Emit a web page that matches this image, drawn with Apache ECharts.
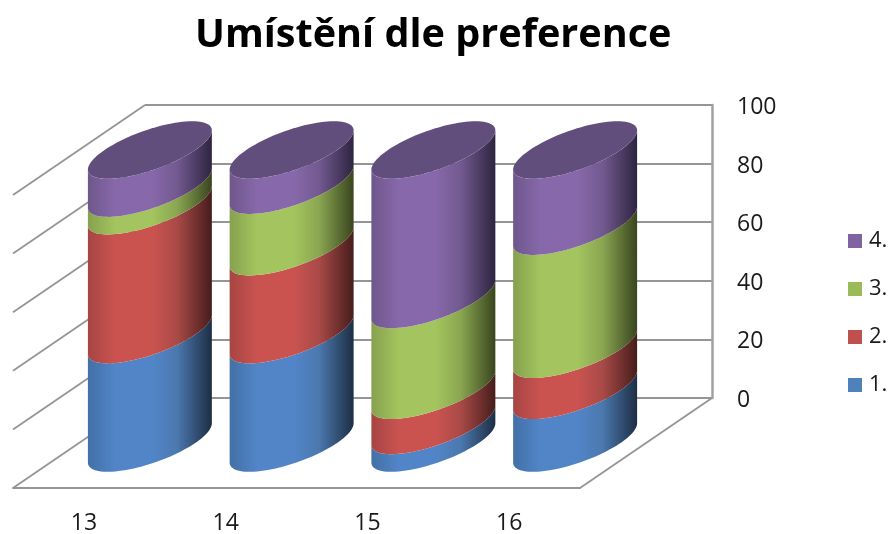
<!DOCTYPE html>
<html>
<head>
<meta charset="utf-8">
<script src="https://cdn.jsdelivr.net/npm/echarts@6/dist/echarts.min.js"></script>
<style>html,body{margin:0;padding:0;background:#fff}#c{width:889px;height:534px}</style>
</head>
<body>
<div id="c"></div>
<script>
// Stacked share of placements per group, values in percent
const categories = ['13', '14', '15', '16'];
const first  = [37, 37, 6, 18];
const second = [44, 30, 12, 14];
const third  = [6, 21, 31, 42];
const fourth = [13, 12, 51, 26];
const seriesNames = ['1.', '2.', '3.', '4.'];
const yTicks = [0, 20, 40, 60, 80, 100];

// Oblique projection: how far the back wall sits from the front plane
const DEPTH_X = 132, DEPTH_Y = 90;
// Cylinder base ellipse, expressed as fractions of the depth and band width
const ELL_K = 0.64;
const SAMPLES = 48;

const palettes = [
  { base: '#4f81bd', left: '#4270a6', lit: '#5285c8', mid: '#4b78ae', right: '#1d2e44' },
  { base: '#c0504d', left: '#a64543', lit: '#ca5350', mid: '#a94a47', right: '#451d1c' },
  { base: '#9bbb59', left: '#86a14e', lit: '#a3c45e', mid: '#8aa651', right: '#39451f' },
  { base: '#8064a2', left: '#6e578c', lit: '#8768aa', mid: '#725a90', right: '#2e2440' }
];
const CAP_COLOR = '#624e7c';
const GRID_COLOR = '#959595';

function ellipseFrame(bandWidth) {
  const ax = ELL_K * bandWidth / 2;
  const bx = ELL_K * DEPTH_X / 2;
  const by = ELL_K * DEPTH_Y / 2;
  return { ax, bx, by, start: Math.atan2(bx, ax) + Math.PI };
}

function frontArc(cx, cy, f) {
  const pts = [];
  for (let i = 0; i <= SAMPLES; i++) {
    const t = f.start + Math.PI * i / SAMPLES;
    pts.push([cx + f.ax * Math.cos(t) + f.bx * Math.sin(t), cy - f.by * Math.sin(t)]);
  }
  return pts;
}

function fullEllipse(cx, cy, f) {
  const pts = [];
  for (let i = 0; i < SAMPLES * 2; i++) {
    const t = Math.PI * i / SAMPLES;
    pts.push([cx + f.ax * Math.cos(t) + f.bx * Math.sin(t), cy - f.by * Math.sin(t)]);
  }
  return pts;
}

function cylinderSeries(name, idx, values, below) {
  const pal = palettes[idx];
  const rows = values.map((v, i) => [i, below[i], below[i] + v]);
  return {
    type: 'custom',
    name,
    xAxisIndex: 1,
    yAxisIndex: 1,
    coordinateSystem: 'cartesian2d',
    clip: false,
    z: 5,
    silent: true,
    itemStyle: { color: pal.base },
    encode: { x: 0, y: [1, 2] },
    data: rows,
    renderItem(params, api) {
      const cat = api.value(0);
      const from = api.coord([cat, api.value(1)]);
      const to = api.coord([cat, api.value(2)]);
      const band = api.size([1, 0])[0];
      const f = ellipseFrame(band);
      const cx = from[0] + DEPTH_X / 2;
      const lowY = from[1] - DEPTH_Y / 2;
      const highY = to[1] - DEPTH_Y / 2;
      const points = frontArc(cx, highY, f).concat(frontArc(cx, lowY, f).reverse());
      const children = [{
        type: 'polygon',
        shape: { points },
        style: {
          fill: new echarts.graphic.LinearGradient(0, 0, 1, 0, [
            { offset: 0, color: pal.left },
            { offset: 0.22, color: pal.lit },
            { offset: 0.52, color: pal.lit },
            { offset: 0.72, color: pal.mid },
            { offset: 1, color: pal.right }
          ]),
          stroke: null
        }
      }];
      if (idx === seriesNames.length - 1) {
        children.push({
          type: 'polygon',
          shape: { points: fullEllipse(cx, highY, f) },
          style: { fill: CAP_COLOR, stroke: null }
        });
      }
      return { type: 'group', children };
    }
  };
}

function wallSeries() {
  const lineStyle = { stroke: GRID_COLOR, lineWidth: 1.8, fill: null };
  return {
    type: 'custom',
    xAxisIndex: 1,
    yAxisIndex: 1,
    clip: false,
    silent: true,
    z: 1,
    encode: { y: 0 },
    data: yTicks.map(t => [t]),
    renderItem(params, api) {
      const v = api.value(0);
      const y = api.coord([0, v])[1];
      const left = params.coordSys.x;
      const children = [{
        type: 'line',
        shape: { x1: left, y1: y, x2: left + DEPTH_X, y2: y - DEPTH_Y },
        style: lineStyle
      }];
      if (v === 0) {
        const right = left + params.coordSys.width;
        children.push({
          type: 'line',
          shape: { x1: right, y1: y, x2: right + DEPTH_X, y2: y - DEPTH_Y },
          style: lineStyle
        });
      }
      return { type: 'group', children };
    }
  };
}

const below = [
  first.map(() => 0),
  first.slice(),
  first.map((v, i) => v + second[i]),
  first.map((v, i) => v + second[i] + third[i])
];
const stacks = [first, second, third, fourth];

const chart = echarts.init(document.getElementById('c'), null, { renderer: 'canvas' });
const fontFamily = '"Open Sans", Lato, sans-serif';

chart.setOption({
  animation: false,
  backgroundColor: '#ffffff',
  title: {
    text: 'Umístění dle preference',
    left: 190,
    top: 11,
    textStyle: { fontFamily, fontWeight: 'bold', fontSize: 39.6, color: '#000000' }
  },
  legend: {
    orient: 'vertical',
    left: 843,
    top: 225,
    itemWidth: 14,
    itemHeight: 14,
    itemGap: 26,
    icon: 'rect',
    selectedMode: false,
    data: seriesNames.slice().reverse(),
    textStyle: { fontFamily, fontSize: 22, color: '#1a1a1a', padding: [0, 0, 0, 2] }
  },
  grid: [
    { left: 145, top: 105, width: 567, height: 293, outerBoundsMode: 'none' },
    { left: 13, top: 195, width: 567, height: 293, outerBoundsMode: 'none' }
  ],
  xAxis: [
    { type: 'category', gridIndex: 0, data: categories, show: false },
    {
      type: 'category',
      gridIndex: 1,
      data: categories,
      axisTick: { show: false },
      axisLine: { show: true, lineStyle: { color: GRID_COLOR, width: 1.8 } },
      axisLabel: { fontFamily, fontSize: 23, color: '#1a1a1a', margin: 24 }
    }
  ],
  yAxis: [
    {
      type: 'value',
      gridIndex: 0,
      position: 'right',
      min: 0,
      max: 100,
      interval: 20,
      axisTick: { show: false },
      axisLine: { show: true, lineStyle: { color: '#a0a0a0', width: 2.5 } },
      splitLine: { show: true, lineStyle: { color: GRID_COLOR, width: 1.8 } },
      axisLabel: {
        fontFamily, fontSize: 23, color: '#1a1a1a', margin: 25, align: 'left',
        verticalAlign: 'top', lineHeight: 5
      }
    },
    { type: 'value', gridIndex: 1, min: 0, max: 100, interval: 20, show: false }
  ],
  series: [wallSeries()].concat(
    seriesNames.map((n, i) => cylinderSeries(n, i, stacks[i], below[i]))
  )
});
</script>
</body>
</html>
